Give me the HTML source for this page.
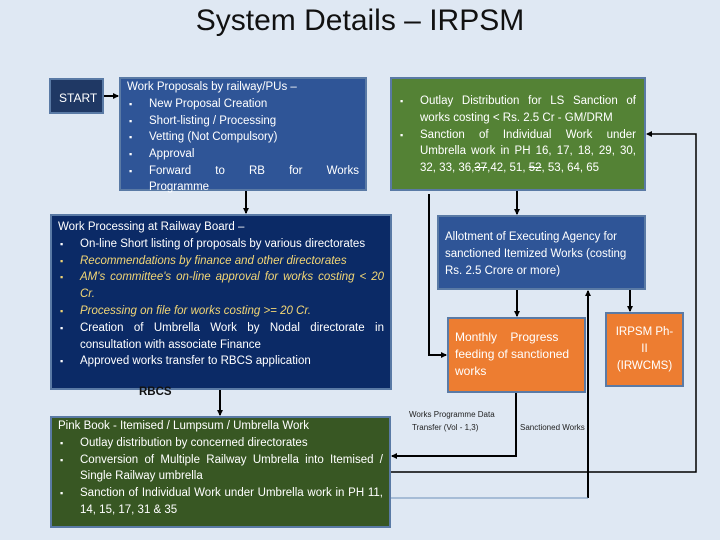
<!DOCTYPE html>
<html><head><meta charset="utf-8"><style>
body{margin:0;width:720px;height:540px;background:#dfe8f3;position:relative;overflow:hidden;font-family:"Liberation Sans",sans-serif}
.b{position:absolute;box-sizing:border-box;border:2px solid #5a7aa5;color:#fff;font-size:11.5px;line-height:16.8px}
ul{margin:0;padding:0 0 0 0;list-style:none}
li{position:relative;padding-left:22px;text-align:justify;text-align-last:auto}
li:before{content:"\25AA";position:absolute;left:2px;font-size:9px}
.y{color:#f2d675;font-style:italic}
.t{position:absolute;font-size:8px;color:#222}
</style></head><body>
<div style="position:absolute;left:0;width:720px;top:4px;text-align:center;font-size:30px;color:#111">System Details – IRPSM</div>
<div class="b" style="left:49px;top:78px;width:55px;height:36px;background:#1f3864;padding:10px 0 0 8px;font-size:12px">START</div>
<div class="b" style="left:119px;top:77px;width:248px;height:114px;background:#2f5597;padding:0 6px 0 6px">Work Proposals by railway/PUs –<ul><li>New Proposal Creation</li><li>Short-listing / Processing</li><li>Vetting (Not Compulsory)</li><li>Approval</li><li style="text-align:justify;text-align-last:justify">Forward to RB for Works</li></ul><div style="padding-left:22px;margin-top:-1px">Programme</div></div>
<div class="b" style="left:390px;top:77px;width:256px;height:114px;background:#548235;padding:14px 8px 0 6px"><ul><li>Outlay Distribution for LS Sanction of works costing &lt; Rs. 2.5 Cr - GM/DRM</li><li>Sanction of Individual Work under Umbrella work in PH 16, 17, 18, 29, 30, 32, 33, 36,<s>37</s>,42, 51, <s>52</s>, 53, 64, 65</li></ul></div>
<div class="b" style="left:50px;top:214px;width:342px;height:176px;background:#0b2a66;padding:3px 6px 0 6px">Work Processing at Railway Board –<ul><li>On-line Short listing of proposals by various directorates</li><li class="y">Recommendations by finance and other directorates</li><li class="y">AM's committee's on-line approval for works costing &lt; 20 Cr.</li><li class="y">Processing on file for works costing &gt;= 20 Cr.</li><li>Creation of Umbrella Work by Nodal directorate in consultation with associate Finance</li><li>Approved works transfer to RBCS application</li></ul></div>
<div style="position:absolute;left:139px;top:386px;font-size:11.5px;font-weight:bold;color:#111">RBCS</div>
<div class="b" style="left:50px;top:416px;width:341px;height:112px;background:#385723;padding:0 6px 0 6px">Pink Book - Itemised / Lumpsum / Umbrella Work<ul><li>Outlay distribution by concerned directorates</li><li>Conversion of Multiple Railway Umbrella into Itemised / Single Railway umbrella</li><li>Sanction of Individual Work under Umbrella work in PH 11, 14, 15, 17, 31 &amp; 35</li></ul></div>
<div class="b" style="left:437px;top:215px;width:209px;height:75px;background:#2f5597;padding:12px 6px 0 6px">Allotment of Executing Agency for sanctioned Itemized Works (costing Rs. 2.5 Crore or more)</div>
<div class="b" style="left:447px;top:317px;width:139px;height:76px;background:#ed7d31;padding:10px 6px 0 6px;font-size:12px">Monthly&nbsp;&nbsp;&nbsp; Progress feeding of sanctioned works</div>
<div class="b" style="left:605px;top:312px;width:79px;height:75px;background:#ed7d31;padding:10px 2px 0 2px;text-align:center">IRPSM Ph-<br>II<br>(IRWCMS)</div>
<div class="t" style="left:409px;top:410px">Works Programme Data</div>
<div class="t" style="left:412px;top:423px">Transfer (Vol - 1,3)</div>
<div class="t" style="left:520px;top:423px">Sanctioned Works</div>
<svg width="720" height="540" style="position:absolute;left:0;top:0" fill="none" stroke="#000" stroke-width="2">
<defs><marker id="a" markerWidth="6" markerHeight="6" refX="5" refY="3" orient="auto" markerUnits="userSpaceOnUse"><path d="M0,0L6,3L0,6z" fill="#000" stroke="none"/></marker></defs>
<path d="M104 96H118" marker-end="url(#a)"/>
<path d="M246 191V213" marker-end="url(#a)"/>
<path d="M220 390V415" marker-end="url(#a)"/>
<path d="M517 191V214" marker-end="url(#a)"/>
<path d="M429 194V355H446" marker-end="url(#a)"/>
<path d="M517 290V316" marker-end="url(#a)"/>
<path d="M630 290V311" marker-end="url(#a)"/>
<path d="M588 498V291" marker-end="url(#a)"/>
<path d="M516 393V456H392" marker-end="url(#a)"/>
<path d="M391 472H696V134H647" stroke-width="1.5" marker-end="url(#a)"/>
<path d="M391 498H588" stroke="#6d8fb8" stroke-width="1"/>
</svg>
</body></html>
